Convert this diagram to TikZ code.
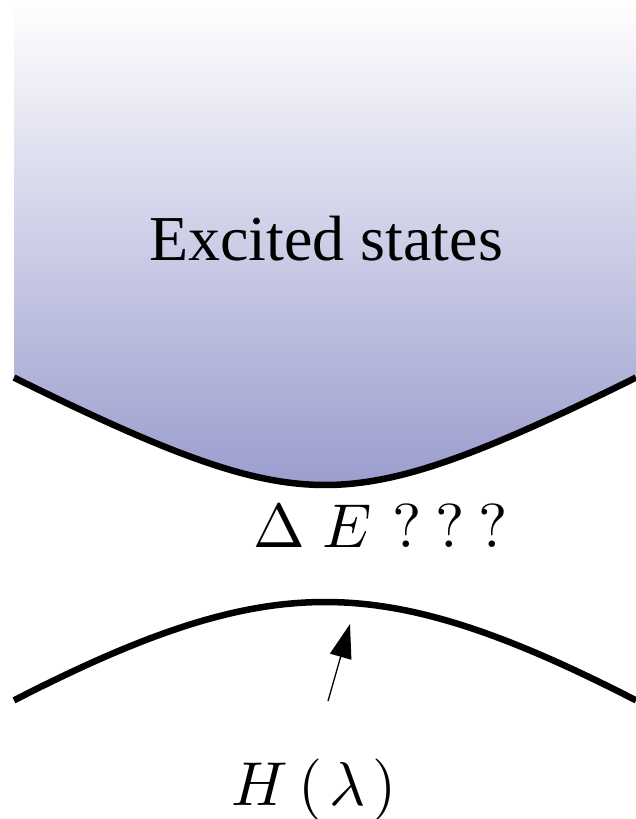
\documentclass[tikz,border=0pt]{standalone}
\usepackage[no-math]{fontspec}
\setmainfont{Liberation Serif}
\usetikzlibrary{arrows.meta}
\definecolor{stateblue}{RGB}{155,157,206}
\newcommand{\biglabel}[1]{\scalebox{6.2}{$#1$}}

\begin{document}
\begin{tikzpicture}[
    x=1pt, y=-1pt,
    level curve/.style={line width=6.5pt},
    big label/.style={font=\fontsize{64}{76}\selectfont, inner sep=0pt, anchor=base},
    math label/.style={inner sep=0pt, anchor=base},
    pointer/.style={line width=1.3pt, -{Triangle[length=34pt, width=22pt]}}
]
\useasboundingbox (0,0) rectangle (636,819);
% excited band
\shade[top color=white, bottom color=stateblue]
    (14,0) -- plot[domain=14:636, samples=80] (\x, {485-55*(sqrt(2.25+((\x-325)/100)^2)-1.5)}) -- (636,0) -- cycle;
\draw[level curve] plot[domain=14:636, samples=80] (\x, {485-55*(sqrt(2.25+((\x-325)/100)^2)-1.5)});
% ground state
\draw[level curve] plot[domain=14:636, samples=80] (\x, {602+66*(sqrt(6.25+((\x-325)/100)^2)-2.5)});

\node[big label] (excited) at (326,260) {Excited states};
\node[math label] (gap) at (381,547) {\biglabel{\Delta\mkern5mu E\mkern6mu ?\mkern4mu ?\mkern4mu ?}};
\node[math label] (ham) at (314,805) {\biglabel{H\mkern3mu(\mkern2mu\lambda\mkern2mu)}};

\coordinate (tail) at (328,701);
\coordinate (tip) at (350,624);
\draw[pointer] (tail) -- (tip);
\end{tikzpicture}
\end{document}
